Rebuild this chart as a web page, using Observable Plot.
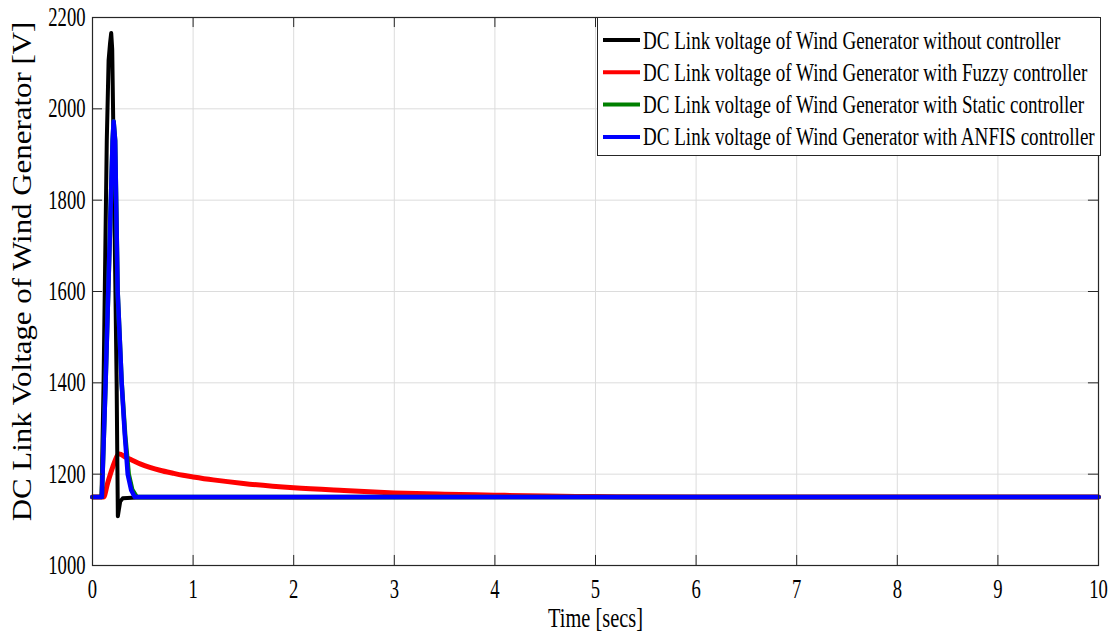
<!DOCTYPE html>
<html><head><meta charset="utf-8">
<script src="https://cdn.jsdelivr.net/npm/d3@7"></script>
<script src="https://cdn.jsdelivr.net/npm/@observablehq/plot@0.6"></script>
<style>
body{margin:0;background:#fff}
#wrap{position:relative;width:1110px;height:634px;background:#fff}
#legend{position:absolute;left:597px;top:17px}
</style>
</head><body><div id="wrap"></div>
<script>
// ---- data ----
const xTicks = [0,1,2,3,4,5,6,7,8,9,10];
const yTicks = [1000,1200,1400,1600,1800,2000,2200];
const seriesNames = [
  "DC Link voltage of Wind Generator without controller",
  "DC Link voltage of Wind Generator with Fuzzy controller",
  "DC Link voltage of Wind Generator with Static controller",
  "DC Link voltage of Wind Generator with ANFIS controller"
];
const seriesColors = ["#000000","#ff0000","#008000","#0000ff"];

const tBlack = [0, 0.09, 0.11, 0.142, 0.16, 0.175, 0.186, 0.196, 0.21, 0.225, 0.24, 0.246, 0.252, 0.262, 0.275, 0.3, 0.44, 10];
const vBlack = [1150, 1150, 1400, 1931, 2106, 2145, 2166, 2130, 1909, 1650, 1400, 1250, 1108, 1122, 1140, 1147, 1149, 1150];

const tFuzzy = [0, 0.11, 0.15, 0.2, 0.265, 0.33, 0.4, 0.48, 0.57, 0.67, 0.8, 0.9, 1.0, 1.2, 1.5, 2.0, 2.5, 3.0, 3.5, 4.0, 4.5, 5.0, 6.0, 10];
const vFuzzy = [1150, 1150, 1180, 1215, 1244, 1237, 1230, 1222, 1215, 1208.5, 1202, 1197.5, 1194, 1187.5, 1179.5, 1170, 1164, 1159, 1156, 1154, 1152, 1151, 1150, 1150];

const tStatic = [0, 0.093, 0.13, 0.2, 0.21, 0.225, 0.25, 0.29, 0.325, 0.36, 0.395, 0.44, 10];
const vStatic = [1150, 1150, 1400, 1931, 1972, 1931, 1600, 1400, 1285, 1200, 1166, 1150, 1150];

const tAnfis = [0, 0.093, 0.13, 0.2, 0.21, 0.225, 0.25, 0.29, 0.32, 0.35, 0.385, 0.42, 10];
const vAnfis = [1150, 1150, 1400, 1931, 1972, 1931, 1600, 1400, 1290, 1200, 1165, 1150, 1150];

// ---- build ----
const toRows = (ts, vs) => ts.map((t, i) => ({t, v: vs[i]}));
const black = toRows(tBlack, vBlack);
const fuzzy = toRows(tFuzzy, vFuzzy);
const stat = toRows(tStatic, vStatic);
const anfis = toRows(tAnfis, vAnfis);

const FONT = "'Liberation Serif', 'Times New Roman', serif";
const gridColor = "#dcdcdc";

const chart = Plot.plot({
  width: 1110, height: 634,
  marginLeft: 92, marginRight: 12, marginTop: 17, marginBottom: 69,
  x: {domain: [0, 10]},
  y: {domain: [1000, 2200]},
  style: {fontFamily: FONT, fontSize: "27px", background: "#fff", color: "#000", overflow: "visible"},
  marks: [
    Plot.gridX(xTicks, {stroke: gridColor, strokeOpacity: 1, strokeWidth: 1}),
    Plot.gridY(yTicks, {stroke: gridColor, strokeOpacity: 1, strokeWidth: 1}),
    Plot.line(fuzzy, {x: "t", y: "v", stroke: seriesColors[1], strokeWidth: 5, curve: "monotone-x", strokeLinejoin: "round"}),
    Plot.line(black, {x: "t", y: "v", stroke: seriesColors[0], strokeWidth: 4, strokeLinejoin: "round"}),
    Plot.line(stat, {x: "t", y: "v", stroke: seriesColors[2], strokeWidth: 4.5, strokeLinejoin: "round"}),
    Plot.line(anfis, {x: "t", y: "v", stroke: seriesColors[3], strokeWidth: 4.5, strokeLinejoin: "round"}),
    // inward ticks (MATLAB box style)
    Plot.ruleX(xTicks, {y1: 1000, y2: 1022, stroke: "#262626", strokeWidth: 1}),
    Plot.ruleX(xTicks, {y1: 2200, y2: 2178, stroke: "#262626", strokeWidth: 1}),
    Plot.ruleY(yTicks, {x1: 0, x2: 0.1, stroke: "#262626", strokeWidth: 1}),
    Plot.ruleY(yTicks, {x1: 10, x2: 9.9, stroke: "#262626", strokeWidth: 1}),
    Plot.frame({stroke: "#262626", strokeWidth: 1.2}),
    Plot.axisX(xTicks, {tickSize: 0, tickPadding: 13, label: null, fontSize: 27, tickFormat: d3.format("d")}),
    Plot.axisY(yTicks, {tickSize: 0, tickPadding: 7, label: null, fontSize: 27, tickFormat: d3.format("d")}),
    Plot.text(["Time [secs]"], {frameAnchor: "bottom", lineAnchor: "middle", textAnchor: "middle", dy: 53, fontSize: 28, className: "xtitle"}),
    Plot.text(["DC Link Voltage of Wind Generator [V]"], {frameAnchor: "left", textAnchor: "middle", lineAnchor: "middle", dx: -70, dy: -20, rotate: -90, fontSize: 28, className: "ytitle"})
  ]
});

const wrap = document.getElementById("wrap");
wrap.appendChild(chart);

// condense text horizontally like the reference
const svg = d3.select(chart);
svg.selectAll("g[aria-label$='tick label'] text").each(function() {
  const tr = this.getAttribute("transform") || "";
  this.setAttribute("transform", tr + " scale(0.69,1)");
});
function fitText(sel, target) {
  sel.each(function() {
    const len = this.getComputedTextLength();
    const k = target / len;
    const tr = this.getAttribute("transform") || "";
    this.setAttribute("transform", tr + ` scale(${k},1)`);
  });
}
fitText(svg.selectAll(".xtitle text"), 95);
fitText(svg.selectAll(".ytitle text"), 500);

// legend
const lw = 504, lh = 139;
const leg = d3.select(wrap).append("svg")
  .attr("id", "legend").attr("width", lw).attr("height", lh)
  .style("font-family", FONT);
leg.append("rect").attr("x", 0.5).attr("y", 0.5).attr("width", lw - 1).attr("height", lh - 1)
  .attr("fill", "#fff").attr("stroke", "#262626").attr("stroke-width", 1);
const rowY = i => 23 + i * 32.3;
seriesNames.forEach((name, i) => {
  leg.append("line").attr("x1", 6).attr("x2", 43).attr("y1", rowY(i)).attr("y2", rowY(i))
    .attr("stroke", seriesColors[i]).attr("stroke-width", 4);
});
const texts = leg.selectAll("text.lt").data(seriesNames).join("text")
  .attr("class", "lt")
  .attr("font-size", 26)
  .attr("dominant-baseline", "central")
  .text(d => d);
let maxLen = 0;
texts.each(function() { maxLen = Math.max(maxLen, this.getComputedTextLength()); });
const kx = 452 / maxLen;
texts.attr("transform", (d, i) => `translate(46,${rowY(i)}) scale(${kx},1)`);
</script>
</body></html>
